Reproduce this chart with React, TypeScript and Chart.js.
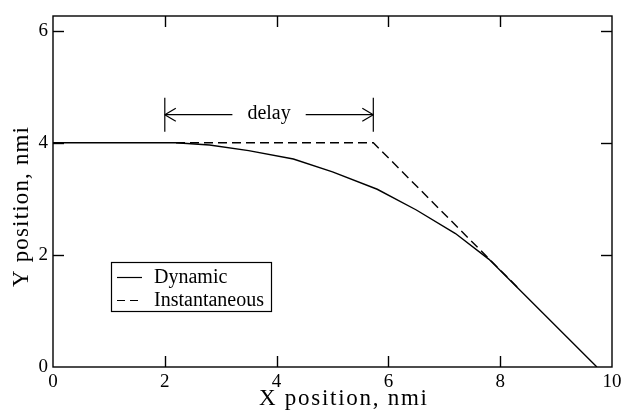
import React, { useEffect, useRef } from "react";
import { Chart, registerables } from "chart.js";

Chart.register(...registerables);

// ---- data ----
const dynamicX = [0, 2.2, 2.8, 3.5, 4.3, 5.0, 5.8, 6.5, 7.2, 7.8, 9.73];
const dynamicY = [4, 4, 3.96, 3.86, 3.71, 3.48, 3.17, 2.8, 2.38, 1.92, 0];
const instantX = [2.2, 5.73, 8.35];
const instantY = [4, 4, 1.38];
const seriesLabels = ["Dynamic", "Instantaneous"];
const xTickValues = [0, 2, 4, 6, 8, 10];
const yTickValues = [0, 2, 4, 6];
const delayRange = [2, 5.73];
const delayLevel = 4.5;
const delayLabel = "delay";
const xTitle = "X position, nmi";
const yTitle = "Y position, nmi";

const SERIF = "'Liberation Serif', 'Times New Roman', serif";

const drawSpacedText = (
  ctx: CanvasRenderingContext2D,
  text: string,
  x: number,
  y: number,
  targetWidth: number
) => {
  (ctx as any).letterSpacing = "0px";
  const w = ctx.measureText(text).width;
  const sp = Math.max(0, (targetWidth - w) / (text.length - 1));
  (ctx as any).letterSpacing = sp + "px";
  ctx.fillText(text, x, y);
  (ctx as any).letterSpacing = "0px";
};

const decorPlugin = {
  id: "decor",
  afterDatasetsDraw(chart: any) {
    const { ctx, chartArea: a } = chart;
    const xs = chart.scales.x;
    const ys = chart.scales.y;
    const TICK = 11;
    ctx.save();
    ctx.strokeStyle = "#000";
    ctx.fillStyle = "#000";
    ctx.lineWidth = 1.4;
    ctx.setLineDash([]);
    const line = (x1: number, y1: number, x2: number, y2: number) => {
      ctx.beginPath();
      ctx.moveTo(x1, y1);
      ctx.lineTo(x2, y2);
      ctx.stroke();
    };
    // frame
    ctx.strokeRect(a.left, a.top, a.right - a.left, a.bottom - a.top);
    // inward ticks on all four sides
    xs.ticks.forEach((t: any) => {
      const px = Math.round(xs.getPixelForValue(t.value)) + 0.5;
      if (px <= a.left + 2 || px >= a.right - 2) return;
      line(px, a.bottom, px, a.bottom - TICK);
      line(px, a.top, px, a.top + TICK);
    });
    ys.ticks.forEach((t: any) => {
      const py = Math.round(ys.getPixelForValue(t.value)) + 0.5;
      if (py <= a.top + 2 || py >= a.bottom - 2) return;
      line(a.left, py, a.left + TICK, py);
      line(a.right, py, a.right - TICK, py);
    });

    // delay annotation
    ctx.lineWidth = 1.2;
    const x1 = xs.getPixelForValue(delayRange[0]);
    const x2 = xs.getPixelForValue(delayRange[1]);
    const ay = ys.getPixelForValue(delayLevel);
    line(x1, ay - 17, x1, ay + 17);
    line(x2, ay - 17, x2, ay + 17);
    ctx.font = `20px ${SERIF}`;
    ctx.textAlign = "center";
    ctx.textBaseline = "alphabetic";
    const mid = (x1 + x2) / 2;
    const tw = ctx.measureText(delayLabel).width;
    ctx.fillText(delayLabel, mid, ay + 4);
    const gap = tw / 2 + 15;
    line(x1, ay, mid - gap, ay);
    line(mid + gap, ay, x2, ay);
    const AH = 11, AW = 6.5;
    line(x1, ay, x1 + AH, ay - AW);
    line(x1, ay, x1 + AH, ay + AW);
    line(x2, ay, x2 - AH, ay - AW);
    line(x2, ay, x2 - AH, ay + AW);

    // legend box
    const lx = 111, ly = 262, lw = 160, lh = 49;
    ctx.fillStyle = "#fff";
    ctx.fillRect(lx, ly, lw, lh);
    ctx.lineWidth = 1.2;
    ctx.strokeRect(lx + 0.5, ly + 0.5, lw, lh);
    ctx.fillStyle = "#000";
    ctx.textAlign = "left";
    ctx.font = `20px ${SERIF}`;
    const rows = [
      { y: ly + 15.5, dash: [] as number[], label: seriesLabels[0] },
      { y: ly + 38.5, dash: [8, 5], label: seriesLabels[1] },
    ];
    rows.forEach((r) => {
      ctx.setLineDash(r.dash);
      line(lx + 6, r.y, lx + 31, r.y);
      ctx.setLineDash([]);
      ctx.fillText(r.label, lx + 43, r.y + 5);
    });

    // axis titles
    ctx.font = `23px ${SERIF}`;
    ctx.textAlign = "left";
    ctx.textBaseline = "alphabetic";
    drawSpacedText(ctx, xTitle, 259, 405, 168);
    ctx.save();
    ctx.translate(28, 287);
    ctx.rotate(-Math.PI / 2);
    drawSpacedText(ctx, yTitle, 0, 0, 160);
    ctx.restore();

    ctx.restore();
  },
};

export default function App() {
  const ref = useRef<HTMLCanvasElement | null>(null);
  useEffect(() => {
    if (!ref.current) return;
    const chart = new Chart(ref.current, {
      type: "scatter",
      data: {
        datasets: [
          {
            label: seriesLabels[0],
            data: dynamicX.map((x, i) => ({ x, y: dynamicY[i] })),
            showLine: true,
            borderColor: "#000",
            borderWidth: 1.4,
            pointRadius: 0,
            tension: 0,
          },
          {
            label: seriesLabels[1],
            data: instantX.map((x, i) => ({ x, y: instantY[i] })),
            showLine: true,
            borderColor: "#000",
            borderWidth: 1.4,
            borderDash: [9, 5],
            pointRadius: 0,
            tension: 0,
          },
        ],
      },
      options: {
        animation: false,
        responsive: false,
        devicePixelRatio: 1,
        layout: { padding: { top: 16, right: 10, left: 0, bottom: 0 } },
        plugins: { legend: { display: false }, tooltip: { enabled: false } },
        scales: {
          x: {
            type: "linear",
            min: 0,
            max: 10,
            afterFit: (s: any) => {
              s.height = 46;
              s.paddingLeft = 0;
              s.paddingRight = 0;
            },
            afterBuildTicks: (s: any) => {
              s.ticks = xTickValues.map((v) => ({ value: v }));
            },
            grid: { display: false, drawTicks: false },
            border: { display: false },
            ticks: {
              color: "#000",
              padding: 4,
              font: { family: SERIF, size: 19 },
              maxRotation: 0,
            },
          },
          y: {
            type: "linear",
            min: 0,
            max: 6.26,
            afterFit: (s: any) => {
              s.width = 53;
              s.paddingTop = 0;
              s.paddingBottom = 0;
            },
            afterBuildTicks: (s: any) => {
              s.ticks = yTickValues.map((v) => ({ value: v }));
            },
            grid: { display: false, drawTicks: false },
            border: { display: false },
            ticks: {
              color: "#000",
              padding: 5,
              font: { family: SERIF, size: 19 },
            },
          },
        },
      },
      plugins: [decorPlugin],
    });
    return () => chart.destroy();
  }, []);
  return (
    <div style={{ position: "absolute", left: 0, top: 0, width: 622, height: 413, background: "#fff" }}>
      <canvas ref={ref} width={622} height={413} />
    </div>
  );
}
